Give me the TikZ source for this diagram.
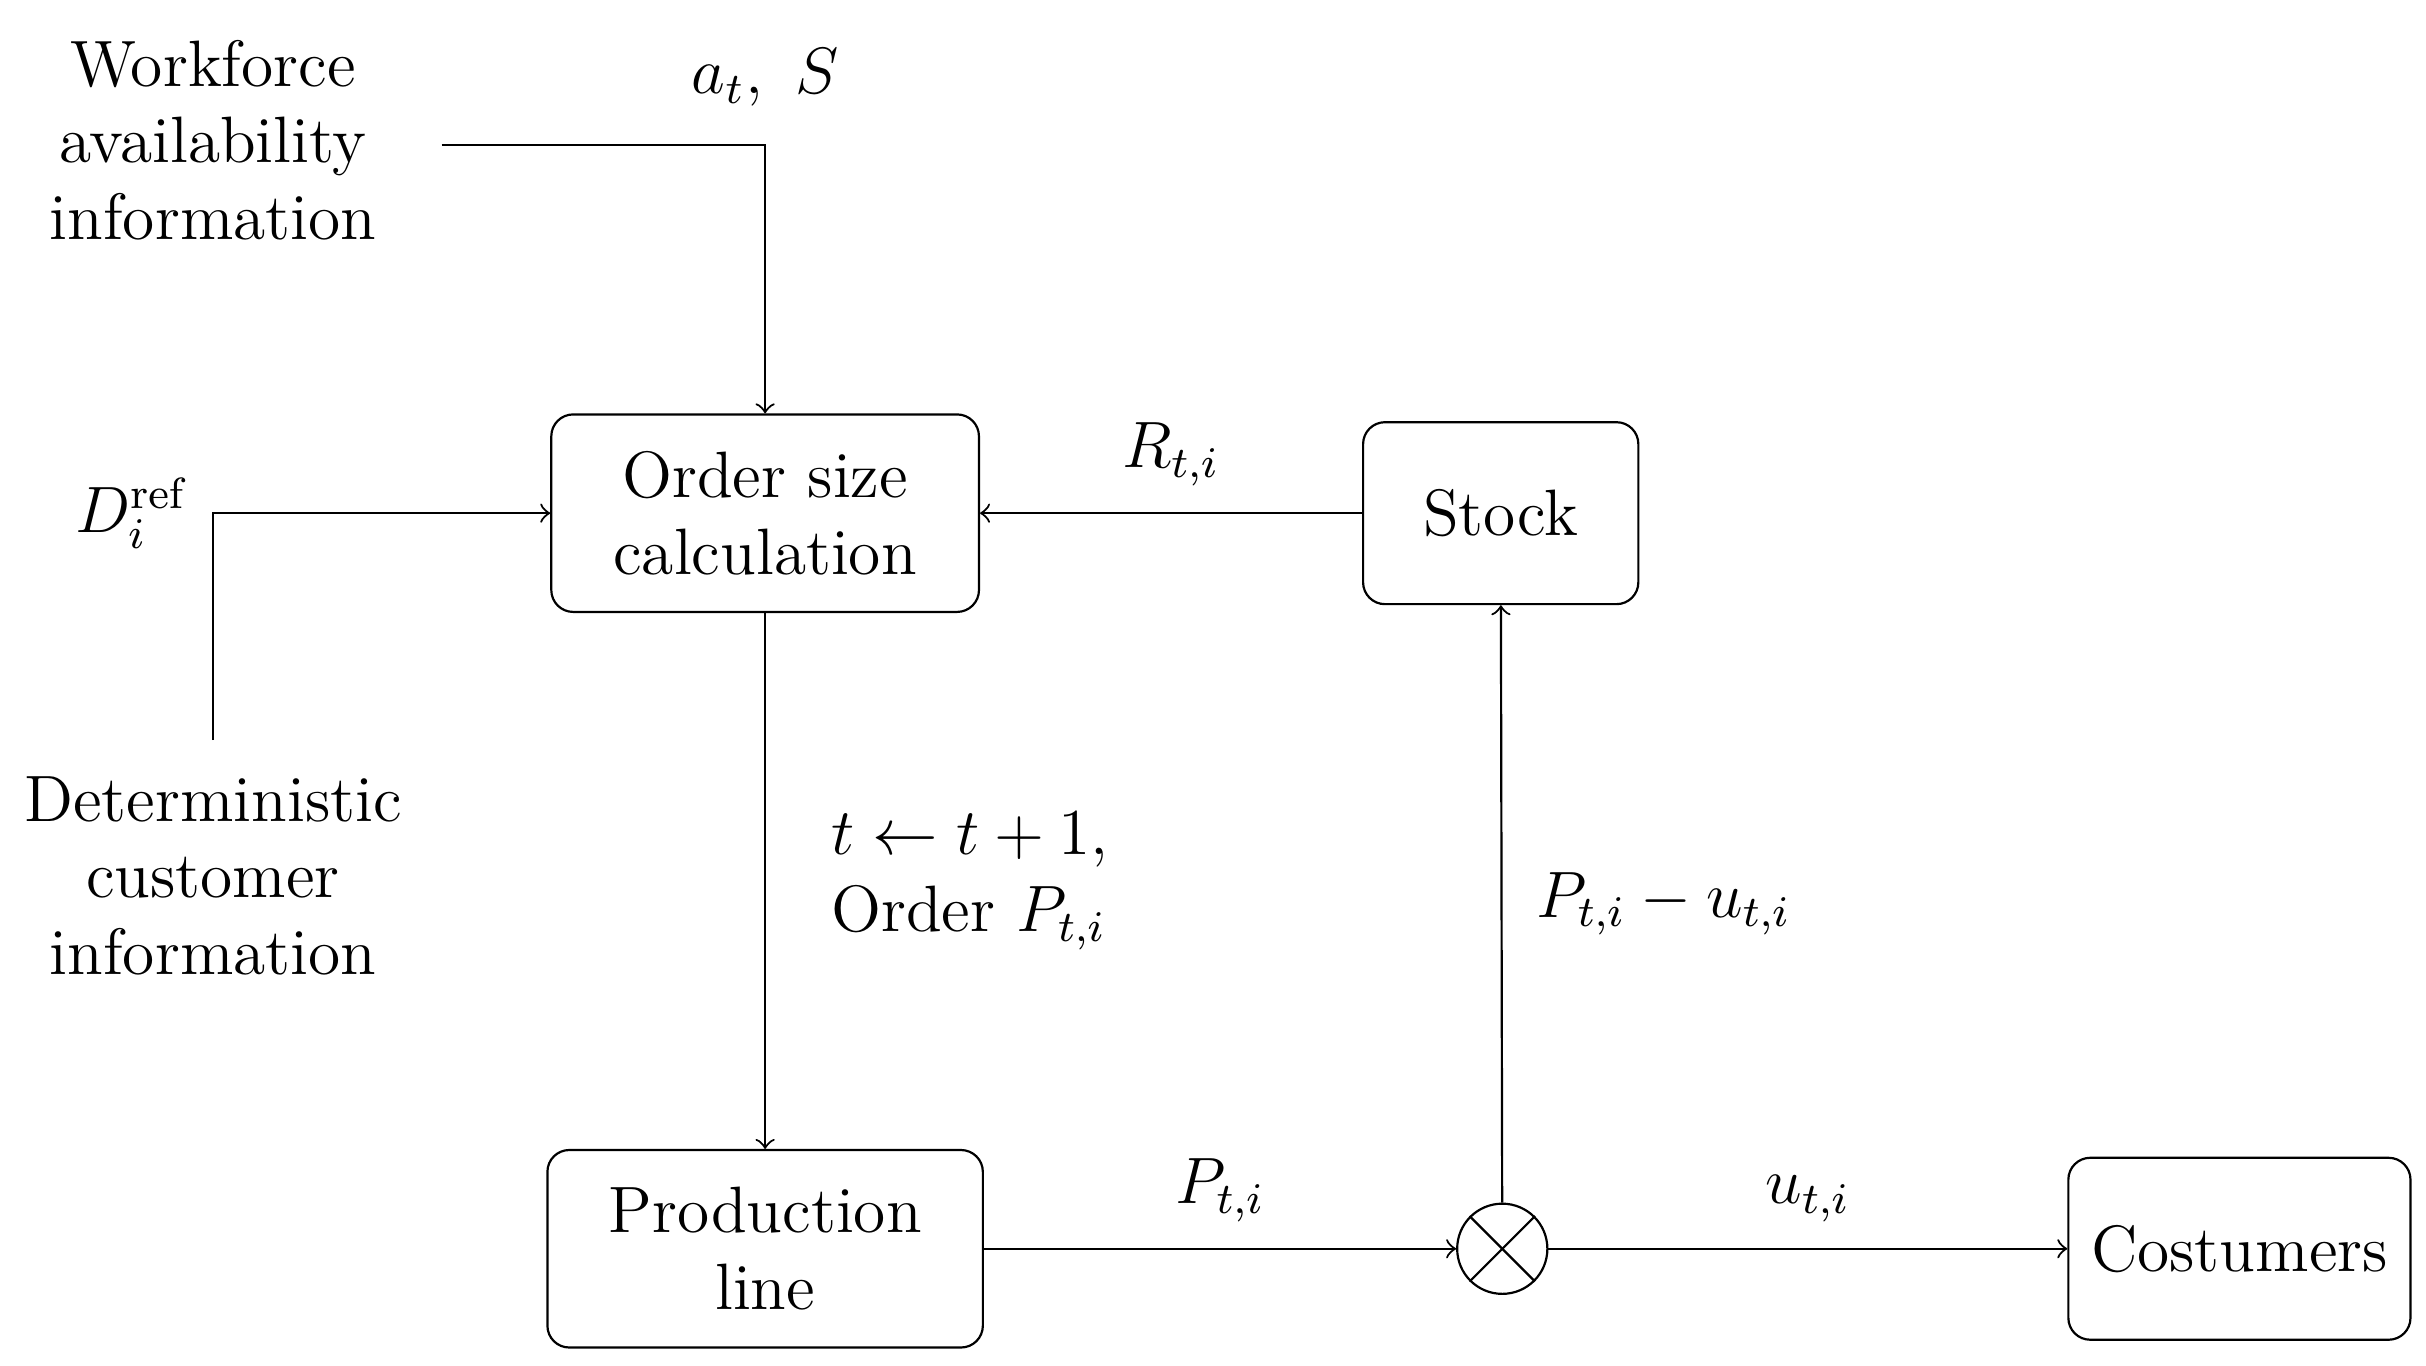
\documentclass[tikz,border=0pt]{standalone}
\usepackage{amsmath}
\usetikzlibrary{shapes.geometric, arrows, positioning}
\tikzstyle{block} = [rectangle, rounded corners, minimum width=2.75cm, minimum height=1.27cm, text centered, align=center, draw=black]
\tikzstyle{txt} = [align=center]
\tikzstyle{arrow} = [->,>=to]

\begin{document}
\begin{tikzpicture}[font=\large]
	\useasboundingbox (0,0) rectangle (15.6,8.78);
	
	% Nodes
	\node (order) [block] at (4.92,5.48) {Order size\\calculation};
	\node (stock) [block, minimum width=1.77cm, minimum height=1.17cm] at (9.65,5.48) {Stock};
	\node (prod) [block, minimum width=2.8cm] at (4.92,0.75) {Production\\line};
	\node (cust) [block, minimum width=2.2cm, minimum height=1.17cm] at (14.4,0.75) {Costumers};
	\node (sum) [circle, draw, minimum size=0.58cm, inner sep=0pt] at (9.66,0.75) {};
	\node (work) [txt] at (1.37,7.88) {Workforce\\availability\\information};
	\node (det) [txt] at (1.37,3.15) {Deterministic\\customer\\information};
	\node (dref) at (0.85,5.48) {$D_i^{\mathrm{ref}}$};
	\coordinate (wend) at (2.84,7.85);
	\coordinate (dend) at (1.37,4.02);
	
	% Cross in summing junction
	\draw (sum.north west) -- (sum.south east);
	\draw (sum.north east) -- (sum.south west);
	
	% Arrows
	\draw [arrow] (wend) -| node[pos=0.5, above=0.12cm] {$a_t,\ S$} (order.north);
	\draw [arrow] (dend) |- (order.west);
	\draw [arrow] (stock) -- node[above=0.05cm] {$R_{t,i}$} (order);
	\draw [arrow] (order) -- node[right=0.3cm, align=left] {$t \leftarrow t+1$,\\Order $P_{t,i}$} (prod);
	\draw [arrow] (prod) -- node[above=0.05cm] {$P_{t,i}$} (sum);
	\draw [arrow] (sum) -- node[right=0.1cm] {$P_{t,i}-u_{t,i}$} (stock);
	\draw [arrow] (sum) -- node[above=0.05cm] {$u_{t,i}$} (cust);
	
\end{tikzpicture}
\end{document}
